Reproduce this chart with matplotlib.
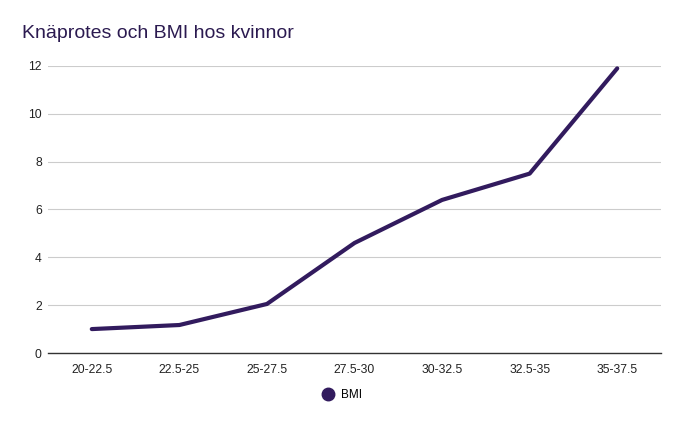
import matplotlib
matplotlib.use("Agg")
import matplotlib.pyplot as plt
from matplotlib.lines import Line2D

categories = ["20-22.5", "22.5-25", "25-27.5", "27.5-30", "30-32.5", "32.5-35", "35-37.5"]
bmi_values = [1.0, 1.17, 2.05, 4.6, 6.4, 7.5, 11.9]
y_ticks = [0, 2, 4, 6, 8, 10, 12]

LINE_COLOR = "#321b5e"
TITLE_COLOR = "#2b1a50"
GRID_COLOR = "#cccccc"

plt.rcParams["font.family"] = ["Liberation Sans", "DejaVu Sans"]

W, H = 683, 423
fig = plt.figure(figsize=(W / 100, H / 100), dpi=100)
ax = fig.add_axes([48 / W, (H - 353) / H, (661 - 48) / W, (353 - 66) / H])

x = list(range(len(categories)))
ax.plot(x, bmi_values, color=LINE_COLOR, linewidth=3, solid_capstyle="round",
        solid_joinstyle="round", zorder=3)

ax.set_xlim(-0.5, len(categories) - 0.5)
ax.set_ylim(0, 12)
ax.set_yticks(y_ticks)
ax.set_xticks(x)
ax.set_xticklabels(categories)
ax.tick_params(axis="both", length=0, labelsize=8.7, colors="#222222")
ax.tick_params(axis="x", pad=8)
ax.tick_params(axis="y", pad=4.5)
ax.grid(axis="y", color=GRID_COLOR, linewidth=0.8, zorder=0)
ax.set_axisbelow(True)
for side in ["top", "right", "left"]:
    ax.spines[side].set_visible(False)
ax.spines["bottom"].set_color("#333333")
ax.spines["bottom"].set_linewidth(1)

fig.text(22 / W, 1 - 34 / H, "Knäprotes och BMI hos kvinnor", fontsize=14,
         color=TITLE_COLOR, va="center", ha="left")

handle = Line2D([0], [0], marker="o", color="none", markerfacecolor=LINE_COLOR,
                markeredgecolor=LINE_COLOR, markersize=9)
fig.legend([handle], ["BMI"], loc="center", bbox_to_anchor=(341 / W, 1 - 395 / H),
           frameon=False, fontsize=8.5, handletextpad=0.5, handlelength=1.2)

fig.savefig("out.png", dpi=100)
